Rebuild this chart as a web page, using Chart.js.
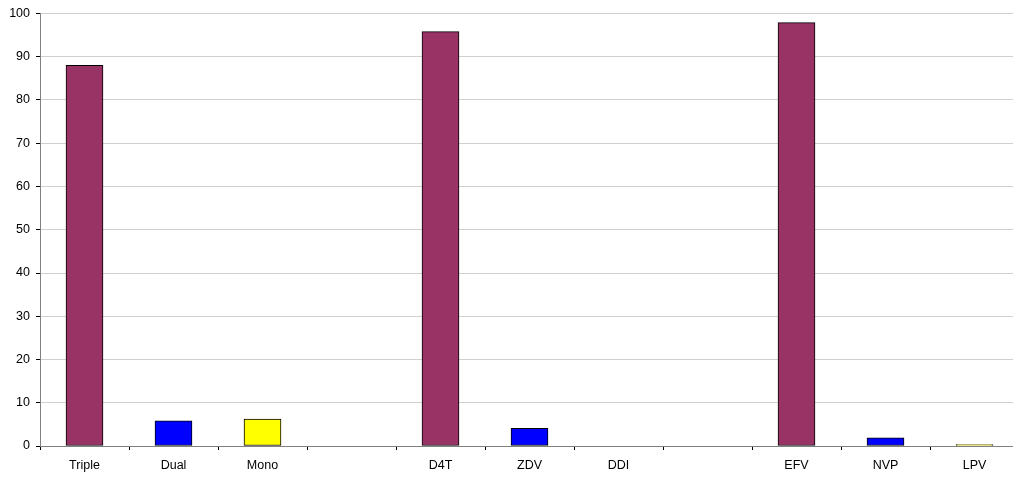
<!DOCTYPE html>
<html>
<head>
<meta charset="utf-8">
<script src="https://cdn.jsdelivr.net/npm/chart.js@4"></script>
<style>
  html, body { margin: 0; padding: 0; background: #fff; overflow: hidden; }
  #wrap { width: 1020px; height: 477px; position: relative; }
</style>
</head>
<body>
<div id="wrap"><canvas id="regimenChart"></canvas></div>
<script>
// regimen groups, separated by empty slots
const categories = ['Triple', 'Dual', 'Mono', '', 'D4T', 'ZDV', 'DDI', '', 'EFV', 'NVP', 'LPV'];
const percentages = [88, 5.8, 6.2, null, 95.8, 4.1, 0, null, 97.9, 1.9, 0.3];
const barColors = ['#993366', '#0000FF', '#FFFF00', '#FFFFFF', '#993366', '#0000FF', '#FFFF00', '#FFFFFF', '#993366', '#0000FF', '#FFFF00'];
const yTicks = [0, 10, 20, 30, 40, 50, 60, 70, 80, 90, 100];

const ctx = document.getElementById('regimenChart').getContext('2d');

new Chart(ctx, {
    type: 'bar',
    data: {
        labels: categories,
        datasets: [{
            data: percentages,
            backgroundColor: barColors,
            borderColor: '#000000',
            borderWidth: 1,
            borderSkipped: false,
            barThickness: 37
        }]
    },
    options: {
        responsive: true,
        maintainAspectRatio: false,
        animation: false,
        layout: { padding: { top: 13, right: 1, left: 0, bottom: 0 } },
        plugins: {
            legend: { display: false },
            tooltip: { enabled: false }
        },
        scales: {
            x: {
                offset: true,
                grid: {
                    display: true,
                    offset: true,
                    drawOnChartArea: false,
                    tickLength: 4,
                    tickColor: '#000000'
                },
                border: { color: '#808080', width: 1 },
                ticks: {
                    color: '#000000',
                    font: { family: 'Liberation Sans, Arial, sans-serif', size: 12.5 },
                    padding: 8,
                    maxRotation: 0,
                    autoSkip: false
                },
                afterFit: function (scale) { scale.height = 31; }
            },
            y: {
                min: 0,
                max: 100,
                afterBuildTicks: function (scale) {
                    scale.ticks = yTicks.map(v => ({ value: v }));
                },
                grid: {
                    color: '#d0d0d0',
                    tickLength: 4,
                    tickColor: '#000000'
                },
                border: { color: '#808080', width: 1 },
                ticks: {
                    color: '#000000',
                    font: { family: 'Liberation Sans, Arial, sans-serif', size: 12.5 },
                    padding: 6
                },
                afterFit: function (scale) { scale.width = 40; }
            }
        }
    }
});
</script>
</body>
</html>
